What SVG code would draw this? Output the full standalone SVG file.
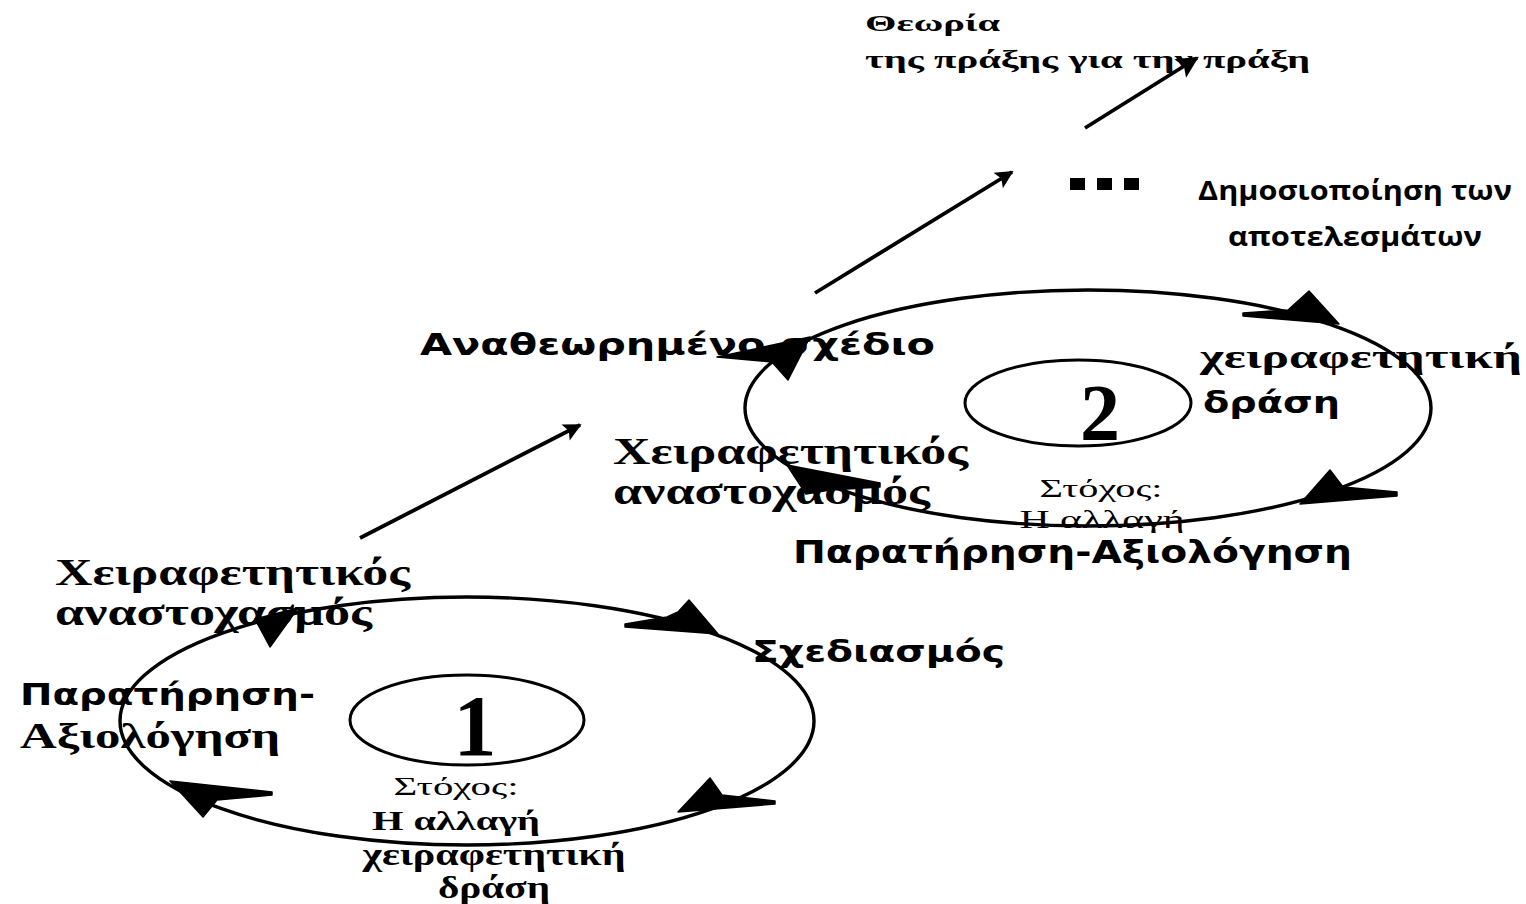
<svg xmlns="http://www.w3.org/2000/svg" width="1526" height="904" viewBox="0 0 1526 904">
<style>
.ell{fill:none;stroke:#000;stroke-width:3.4}
.inner{fill:none;stroke:#000;stroke-width:3}
.head{fill:#000;stroke:#000;stroke-width:1.5;stroke-linejoin:round}
.ln{fill:none;stroke:#000;stroke-width:3.8}
.serifB{font-family:"Liberation Serif","DejaVu Serif",serif;font-weight:bold;fill:#000}
.serif{font-family:"Liberation Serif","DejaVu Serif",serif;fill:#000}
.sansB{font-family:"DejaVu Sans","Liberation Sans",sans-serif;font-weight:bold;fill:#000}
.cal{font-family:"Open Sans","Noto Sans",sans-serif;font-weight:bold;fill:#000}
</style>
<defs>
<marker id="ah" viewBox="0 0 10 10" refX="9" refY="5" markerWidth="26" markerHeight="18" markerUnits="userSpaceOnUse" orient="auto">
<path d="M0,0 L10,5 L0,10 L2,5 z" fill="#000"/>
</marker>
<marker id="ahBig" viewBox="0 0 10 10" refX="9" refY="5" markerWidth="30" markerHeight="22" markerUnits="userSpaceOnUse" orient="auto">
<path d="M0,0 L10,5 L0,10 L2,5 z" fill="#000"/>
</marker>
</defs>
<rect width="1526" height="904" fill="#fff"/>

<g id="connectors">
<line class="ln" x1="360" y1="538" x2="580" y2="425" marker-end="url(#ah)"/>
<line class="ln" x1="815" y1="293" x2="1012" y2="172" marker-end="url(#ah)"/>
<line class="ln" x1="1085" y1="128" x2="1197" y2="58" stroke-width="5.5" marker-end="url(#ahBig)"/>
</g>

<g id="cycle1">
<ellipse class="ell" cx="467" cy="721" rx="347" ry="124"/>
<ellipse class="inner" cx="467" cy="720" rx="117" ry="45"/>
<polygon class="head" points="625,624 667,617 678,612 689,600 718,634 625,627"/>
<polygon class="head" points="678,812 710,778 722,795 775,801 775,804"/>
<polygon class="head" points="170,781 272,792 272,795 217,800 203,817"/>
<polygon class="head" points="255,619 298,608 270,647"/>
<text class="serifB" x="475" y="755" font-size="86" text-anchor="middle">1</text>
</g>

<g id="cycle2">
<ellipse class="ell" cx="1088" cy="408" rx="343" ry="118"/>
<ellipse class="inner" cx="1078" cy="403" rx="113" ry="43"/>
<polygon class="head" points="1243,313 1288,310 1309,291 1339,324 1243,316"/>
<polygon class="head" points="1300,504 1330,470 1343,487 1397,492 1397,496"/>
<polygon class="head" points="787,465 880,483 880,487 830,490 806,494"/>
<polygon class="head" points="717,357 810,337 788,380 772,362"/>
<text class="serifB" x="1100" y="440" font-size="80" text-anchor="middle">2</text>
</g>

<g id="theory">
<text class="serifB" x="865" y="31" font-size="24" textLength="135" lengthAdjust="spacingAndGlyphs">Θεωρία</text>
<text class="serifB" x="865" y="68" font-size="26" textLength="445" lengthAdjust="spacingAndGlyphs">της πράξης για την πράξη</text>
</g>

<g id="dots">
<rect x="1070" y="178" width="15" height="12" fill="#000"/>
<rect x="1097" y="178" width="15" height="12" fill="#000"/>
<rect x="1124" y="178" width="15" height="12" fill="#000"/>
</g>

<g id="publish">
<text class="cal" x="1355" y="200" font-size="27" text-anchor="middle" textLength="314" lengthAdjust="spacingAndGlyphs">Δημοσιοποίηση των</text>
<text class="cal" x="1355" y="246" font-size="27" text-anchor="middle" textLength="254" lengthAdjust="spacingAndGlyphs">αποτελεσμάτων</text>
</g>

<g id="revised-plan">
<text class="sansB" x="420" y="355" font-size="30" textLength="515" lengthAdjust="spacingAndGlyphs">Αναθεωρημένο  σχέδιο</text>
</g>

<g id="action2">
<text class="serifB" x="1200" y="368" font-size="33" textLength="322" lengthAdjust="spacingAndGlyphs">χειραφετητική</text>
<text class="sansB" x="1203" y="413" font-size="30" textLength="137" lengthAdjust="spacingAndGlyphs">δράση</text>
</g>

<g id="reflection2">
<text class="serifB" x="613" y="464" font-size="37" textLength="355" lengthAdjust="spacingAndGlyphs">Χειραφετητικός</text>
<text class="serifB" x="613" y="504" font-size="37" textLength="317" lengthAdjust="spacingAndGlyphs">αναστοχασμός</text>
</g>

<g id="goal2">
<text class="serif" x="1101" y="497" font-size="26" text-anchor="middle" textLength="123" lengthAdjust="spacingAndGlyphs">Στόχος:</text>
<text class="serif" x="1102" y="528" font-size="26" text-anchor="middle" textLength="165" lengthAdjust="spacingAndGlyphs">Η αλλαγή</text>
</g>

<g id="observation2">
<text class="sansB" x="793" y="563" font-size="32" textLength="559" lengthAdjust="spacingAndGlyphs">Παρατήρηση-Αξιολόγηση</text>
</g>

<g id="reflection1">
<text class="serifB" x="55" y="585" font-size="37" textLength="355" lengthAdjust="spacingAndGlyphs">Χειραφετητικός</text>
<text class="serifB" x="55" y="625" font-size="37" textLength="317" lengthAdjust="spacingAndGlyphs">αναστοχασμός</text>
</g>

<g id="planning">
<text class="sansB" x="752" y="662" font-size="30" textLength="253" lengthAdjust="spacingAndGlyphs">Σχεδιασμός</text>
</g>

<g id="observation1">
<text class="sansB" x="20" y="705" font-size="30" textLength="295" lengthAdjust="spacingAndGlyphs">Παρατήρηση-</text>
<text class="serifB" x="20" y="748" font-size="35" textLength="260" lengthAdjust="spacingAndGlyphs">Αξιολόγηση</text>
</g>

<g id="goal1">
<text class="serif" x="456" y="795" font-size="26" text-anchor="middle" textLength="125" lengthAdjust="spacingAndGlyphs">Στόχος:</text>
<text class="serifB" x="456" y="830" font-size="28" text-anchor="middle" textLength="168" lengthAdjust="spacingAndGlyphs">Η αλλαγή</text>
<text class="serifB" x="494" y="865" font-size="31" text-anchor="middle" textLength="263" lengthAdjust="spacingAndGlyphs">χειραφετητική</text>
<text class="serifB" x="494" y="898" font-size="31" text-anchor="middle" textLength="112" lengthAdjust="spacingAndGlyphs">δράση</text>
</g>
</svg>
